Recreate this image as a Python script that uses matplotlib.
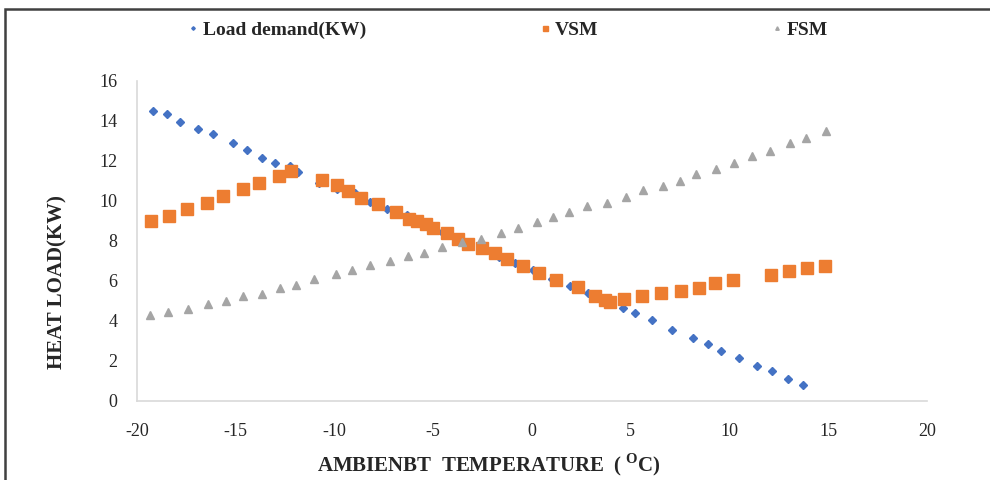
import matplotlib
matplotlib.use("Agg")
import matplotlib.pyplot as plt
from matplotlib.patches import Rectangle

plt.rcParams["font.family"] = ["Liberation Serif", "DejaVu Serif"]
plt.rcParams["mathtext.fontset"] = "custom"
plt.rcParams["mathtext.rm"] = "Liberation Serif:bold"
plt.rcParams["axes.unicode_minus"] = False

# ambient temperature (C) and heat load (kW) for each series
load_temp = [-19.17, -18.50, -17.82, -16.93, -16.17, -15.15, -14.45, -13.66,
             -13.01, -12.25, -11.86, -10.78, -9.89, -8.94, -8.18, -7.36,
             -6.34, -5.47, -4.57, -3.14, -1.67, -0.86, 0.03, 1.01, 1.92,
             2.85, 3.70, 4.62, 5.22, 6.06, 7.07, 8.14, 8.90, 9.55, 10.48,
             11.41, 12.17, 12.98, 13.74]
load_kw = [14.50, 14.33, 13.97, 13.61, 13.33, 12.89, 12.54, 12.17, 11.90,
           11.77, 11.45, 10.90, 10.59, 10.39, 9.93, 9.58, 9.28, 8.85, 8.44,
           7.80, 7.20, 6.89, 6.55, 6.10, 5.75, 5.38, 5.05, 4.63, 4.38, 4.05,
           3.57, 3.14, 2.85, 2.52, 2.14, 1.77, 1.52, 1.08, 0.80]

vsm_temp = [-19.31, -18.36, -17.45, -16.47, -15.63, -14.62, -13.81, -12.81,
            -12.22, -10.65, -9.89, -9.30, -8.66, -7.81, -6.89, -6.23, -5.81,
            -5.37, -5.03, -4.32, -3.73, -3.23, -2.53, -1.89, -1.28, -0.47,
            0.37, 1.22, 2.34, 3.19, 3.70, 3.93, 4.67, 5.59, 6.53, 7.53, 8.46,
            9.28, 10.19, 12.10, 13.03, 13.94, 14.84]
vsm_kw = [9.00, 9.27, 9.60, 9.90, 10.27, 10.59, 10.89, 11.25, 11.50, 11.05,
          10.80, 10.52, 10.17, 9.84, 9.45, 9.09, 9.00, 8.84, 8.65, 8.39,
          8.10, 7.84, 7.67, 7.39, 7.10, 6.77, 6.39, 6.05, 5.69, 5.24, 5.05,
          4.97, 5.08, 5.25, 5.42, 5.50, 5.67, 5.89, 6.05, 6.32, 6.49, 6.67,
          6.77]

fsm_temp = [-19.34, -18.42, -17.43, -16.42, -15.49, -14.65, -13.66, -12.76,
            -11.95, -11.02, -9.92, -9.09, -8.19, -7.19, -6.26, -5.45, -4.57,
            -3.53, -2.57, -1.58, -0.69, 0.24, 1.05, 1.89, 2.80, 3.81, 4.74,
            5.64, 6.65, 7.49, 8.30, 9.32, 10.23, 11.15, 12.05, 13.06, 13.87,
            14.89]
fsm_kw = [4.30, 4.47, 4.59, 4.84, 5.02, 5.27, 5.35, 5.64, 5.80, 6.09, 6.35,
          6.54, 6.80, 7.00, 7.25, 7.42, 7.69, 7.94, 8.10, 8.42, 8.67, 8.97,
          9.22, 9.47, 9.75, 9.92, 10.22, 10.55, 10.74, 11.02, 11.35, 11.62,
          11.92, 12.25, 12.52, 12.89, 13.14, 13.50]

x_ticks = [-20, -15, -10, -5, 0, 5, 10, 15, 20]
y_ticks = [0, 2, 4, 6, 8, 10, 12, 14, 16]

fig = plt.figure(figsize=(9.9, 4.8), dpi=100)
ax = fig.add_axes([0.1384, 0.1646, 0.798, 0.6667])

ax.plot(load_temp, load_kw, "D", color="#4472C4", markersize=4,
        label="Load demand(KW)")
ax.plot(vsm_temp, vsm_kw, "s", color="#ED7D31", markersize=8, label="VSM")
ax.plot(fsm_temp, fsm_kw, "^", color="#A5A5A5", markersize=5.5, label="FSM")

ax.set_xlim(-20, 20)
ax.set_ylim(0, 16)
ax.set_xticks(x_ticks)
ax.set_yticks(y_ticks)
ax.tick_params(length=0, labelsize=13, colors="#262626")
ax.tick_params(axis="x", pad=16)
ax.tick_params(axis="y", pad=14)
for side in ["top", "right"]:
    ax.spines[side].set_visible(False)
for side in ["left", "bottom"]:
    ax.spines[side].set_color("#d9d9d9")
    ax.spines[side].set_linewidth(1.2)

fig.text(489 / 990, 1 - 465 / 480, r"AMBIENBT  TEMPERATURE  ( $^{\mathrm{O}}$C)",
         ha="center", va="center", fontsize=15, fontweight="bold",
         color="#262626")
fig.text(57 / 990, 1 - 282 / 480, "HEAT LOAD(KW)", rotation=90,
         ha="center", va="center", fontsize=15, fontweight="bold",
         color="#262626")

leg = fig.legend(loc="center left", bbox_to_anchor=(172 / 990, 1 - 30 / 480),
                 ncol=3, frameon=False, markerscale=0.45, handlelength=0.4,
                 handletextpad=0.3, columnspacing=9.0,
                 prop={"size": 14, "weight": "bold"})
for t in leg.get_texts():
    t.set_color("#262626")

# outer frame line along the top and left edges
fig.add_artist(Rectangle((5 / 990, -0.2), 1.5, 1.2 - 9 / 480,
                         transform=fig.transFigure, fill=False,
                         edgecolor="#404040", linewidth=1.8))

fig.savefig("out.png", dpi=100)
